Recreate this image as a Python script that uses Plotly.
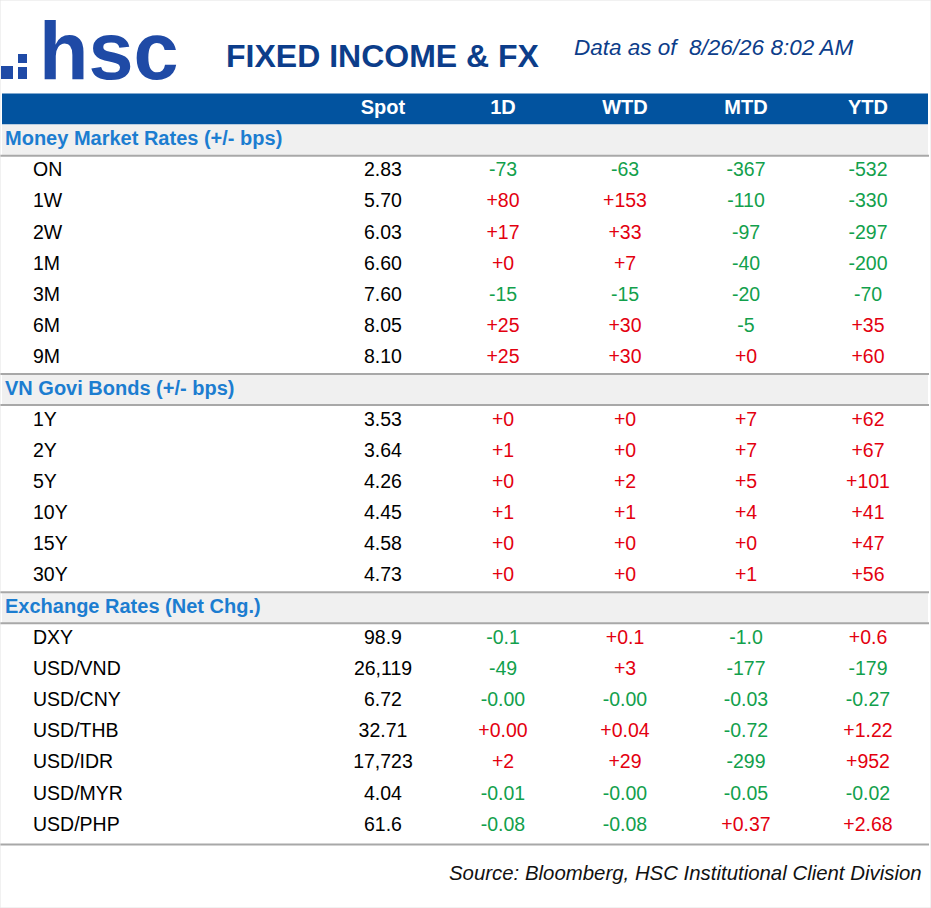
import plotly.graph_objects as go

# ---- data ----
columns = ["Spot", "1D", "WTD", "MTD", "YTD"]

mm_title = "Money Market Rates (+/- bps)"
mm_names = ["ON", "1W", "2W", "1M", "3M", "6M", "9M"]
mm_spot = ["2.83", "5.70", "6.03", "6.60", "7.60", "8.05", "8.10"]
mm_1d = ["-73", "+80", "+17", "+0", "-15", "+25", "+25"]
mm_wtd = ["-63", "+153", "+33", "+7", "-15", "+30", "+30"]
mm_mtd = ["-367", "-110", "-97", "-40", "-20", "-5", "+0"]
mm_ytd = ["-532", "-330", "-297", "-200", "-70", "+35", "+60"]

gb_title = "VN Govi Bonds (+/- bps)"
gb_names = ["1Y", "2Y", "5Y", "10Y", "15Y", "30Y"]
gb_spot = ["3.53", "3.64", "4.26", "4.45", "4.58", "4.73"]
gb_1d = ["+0", "+1", "+0", "+1", "+0", "+0"]
gb_wtd = ["+0", "+0", "+2", "+1", "+0", "+0"]
gb_mtd = ["+7", "+7", "+5", "+4", "+0", "+1"]
gb_ytd = ["+62", "+67", "+101", "+41", "+47", "+56"]

fx_title = "Exchange Rates (Net Chg.)"
fx_names = ["DXY", "USD/VND", "USD/CNY", "USD/THB", "USD/IDR", "USD/MYR", "USD/PHP"]
fx_spot = ["98.9", "26,119", "6.72", "32.71", "17,723", "4.04", "61.6"]
fx_1d = ["-0.1", "-49", "-0.00", "+0.00", "+2", "-0.01", "-0.08"]
fx_wtd = ["+0.1", "+3", "-0.00", "+0.04", "+29", "-0.00", "-0.08"]
fx_mtd = ["-1.0", "-177", "-0.03", "-0.72", "-299", "-0.05", "+0.37"]
fx_ytd = ["+0.6", "-179", "-0.27", "+1.22", "+952", "-0.02", "+2.68"]

sections = [
    (mm_title, mm_names, mm_spot, [mm_1d, mm_wtd, mm_mtd, mm_ytd]),
    (gb_title, gb_names, gb_spot, [gb_1d, gb_wtd, gb_mtd, gb_ytd]),
    (fx_title, fx_names, fx_spot, [fx_1d, fx_wtd, fx_mtd, fx_ytd]),
]

# ---- look ----
W, H = 931, 908
FONT = "Liberation Sans"
BLUE_BAR = "#02539f"
SEC_BLUE = "#1c7dd0"
NAVY = "#0c3d8a"
LOGO = "#1f4aa6"
GREEN = "#12a04c"
RED = "#e3000f"
GRID = "#a8a8a8"
ROW0, ROW_H = 109, 31.17          # pixel centre of header row, row height
col_x = [383, 503, 625, 746, 868]
name_x, sec_x = 33, 5


def py(p):
    """pixel y -> row units"""
    return (p - ROW0) / ROW_H


# row layout
sec_rows, names, name_rows = [], [], []
spot_vals, chg_vals = [], [[], [], [], []]
r = 1
for title, nm, sp, chg in sections:
    sec_rows.append(r)
    r += 1
    for i in range(len(nm)):
        names.append(nm[i])
        name_rows.append(r)
        spot_vals.append(sp[i])
        for c in range(4):
            chg_vals[c].append(chg[c][i])
        r += 1
last_row = r - 1

fig = go.Figure()

# header
fig.add_trace(go.Scatter(x=col_x, y=[0] * 5, mode="text", text=columns,
                         textposition="middle center",
                         textfont=dict(family=FONT, size=20, color="white",
                                       weight="bold"),
                         hoverinfo="skip"))
# section titles
fig.add_trace(go.Scatter(x=[sec_x] * 3, y=sec_rows, mode="text",
                         text=[s[0] for s in sections],
                         textposition="middle right",
                         textfont=dict(family=FONT, size=20, color=SEC_BLUE,
                                       weight="bold"),
                         hoverinfo="skip"))
# row names
fig.add_trace(go.Scatter(x=[name_x] * len(names), y=name_rows, mode="text",
                         text=names, textposition="middle right",
                         textfont=dict(family=FONT, size=19.5, color="black"),
                         hoverinfo="skip"))
# spot
fig.add_trace(go.Scatter(x=[col_x[0]] * len(spot_vals), y=name_rows,
                         mode="text", text=spot_vals,
                         textposition="middle center",
                         textfont=dict(family=FONT, size=19.5, color="black"),
                         hoverinfo="skip"))
# changes
for c in range(4):
    vals = chg_vals[c]
    colors = [GREEN if v.startswith("-") else RED for v in vals]
    fig.add_trace(go.Scatter(x=[col_x[c + 1]] * len(vals), y=name_rows,
                             mode="text", text=vals,
                             textposition="middle center",
                             textfont=dict(family=FONT, size=19.5,
                                           color=colors),
                             hoverinfo="skip"))

shapes = [
    dict(type="rect", xref="x", yref="y", x0=2, x1=928, y0=-0.5, y1=0.5,
         fillcolor=BLUE_BAR, line_width=0, layer="below"),
]
for k, sr in enumerate(sec_rows):
    shapes.append(dict(type="rect", xref="x", yref="y", x0=2, x1=928,
                       y0=sr - 0.5, y1=sr + 0.5, fillcolor="#f0f0f0",
                       line_width=0, layer="below"))
    if k > 0:
        shapes.append(dict(type="line", xref="x", yref="y", x0=0, x1=929,
                           y0=sr - 0.5, y1=sr - 0.5,
                           line=dict(color=GRID, width=2)))
    shapes.append(dict(type="line", xref="x", yref="y", x0=0, x1=929,
                       y0=sr + 0.5, y1=sr + 0.5,
                       line=dict(color=GRID, width=2)))
shapes.append(dict(type="line", xref="x", yref="y", x0=0, x1=929,
                   y0=last_row + 0.6, y1=last_row + 0.6,
                   line=dict(color=GRID, width=2)))
# logo dots
for x0, x1, p0, p1 in [(1, 13, 66, 79), (18, 27, 54, 63), (18, 27, 67, 79)]:
    shapes.append(dict(type="rect", xref="x", yref="y", x0=x0, x1=x1,
                       y0=py(p0), y1=py(p1), fillcolor=LOGO, line_width=0))
# faint frame
shapes.append(dict(type="rect", xref="paper", yref="paper", x0=0, x1=1,
                   y0=0, y1=1, line=dict(color="#e4e4e4", width=1)))

annotations = [
    dict(x=37, y=py(51), xref="x", yref="y", text="hsc", showarrow=False,
         xanchor="left", yanchor="middle",
         font=dict(family=FONT, size=81, color=LOGO, weight="bold")),
    dict(x=224, y=py(56), xref="x", yref="y", text="FIXED INCOME & FX",
         showarrow=False, xanchor="left", yanchor="middle",
         font=dict(family=FONT, size=32, color=NAVY, weight="bold")),
    dict(x=572, y=py(47.5), xref="x", yref="y",
         text="Data as of\u00a0 8/26/26 8:02 AM", showarrow=False,
         xanchor="left", yanchor="middle",
         font=dict(family=FONT, size=22.5, color=NAVY, style="italic")),
    dict(x=924, y=py(873), xref="x", yref="y",
         text="Source: Bloomberg, HSC Institutional Client Division",
         showarrow=False, xanchor="right", yanchor="middle",
         font=dict(family=FONT, size=20.4, color="#111111", style="italic")),
]

fig.update_layout(
    width=W, height=H, autosize=False,
    margin=dict(l=0, r=0, t=0, b=0),
    paper_bgcolor="white", plot_bgcolor="white",
    showlegend=False,
    xaxis=dict(range=[0, W], visible=False, fixedrange=True),
    yaxis=dict(range=[py(H), py(0)], visible=False, fixedrange=True),
    shapes=shapes, annotations=annotations,
)

# the page has a default 8px body margin; drop it so the figure sits at 0,0
fig.write_html("out.html", config={"displayModeBar": False},
               post_script="document.body.style.margin='0';")
